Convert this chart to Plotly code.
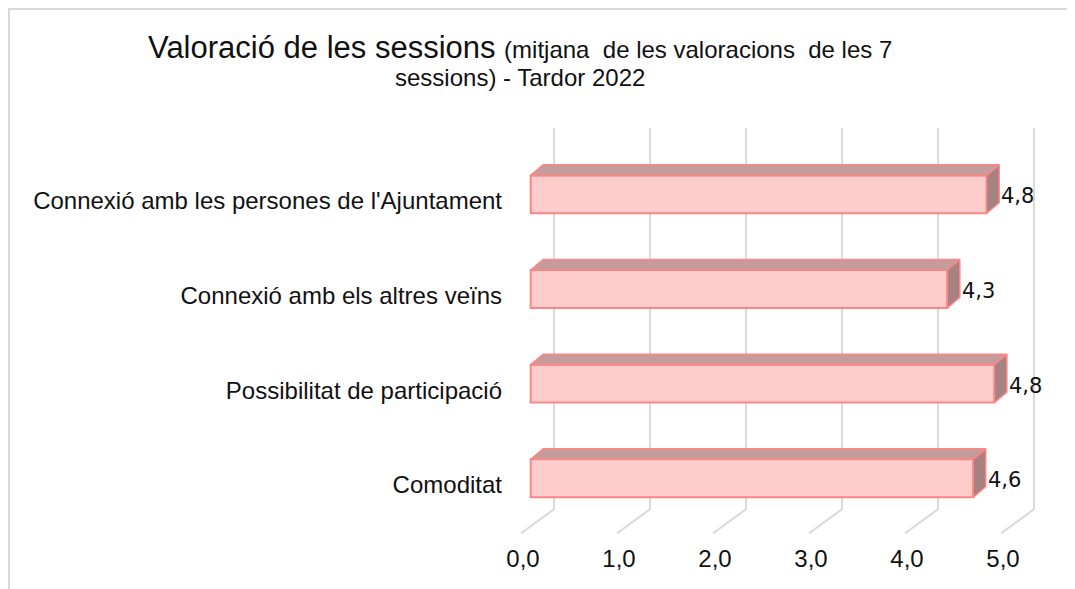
import plotly.graph_objects as go

# ---- data ----
categories = ["Comoditat", "Possibilitat de participació",
              "Connexió amb els altres veïns", "Connexió amb les persones de l'Ajuntament"]
values = [4.61, 4.83, 4.34, 4.75]
x_ticks = [0, 1, 2, 3, 4, 5]
x_tick_labels = ["0,0", "1,0", "2,0", "3,0", "4,0", "5,0"]

# ---- style / pseudo-3D geometry (data units) ----
FRONT = "#FFCCCC"
EDGE = "#FF8585"
TOP = "#C49C9C"
SIDE = "#A68282"
GRID = "#D9D9D9"
BAR_W = 0.40
DX, DY = 0.13, 0.111          # bar depth offset
BACK_DX = 0.243               # back wall offset
FLOOR_DX = -0.10              # front floor offset
WALL_BOTTOM, WALL_TOP, FLOOR_FRONT = -0.327, 3.70, -0.581
TXT = "#111111"
FONT = "Liberation Sans, Arial, sans-serif"

ys = list(range(len(categories)))

fig = go.Figure()

# front faces
fig.add_trace(go.Bar(
    x=values, y=ys, orientation="h", width=BAR_W,
    marker=dict(color=FRONT, line=dict(color=EDGE, width=2)),
    hoverinfo="skip"))

# top faces
tx, ty = [], []
for y, v in zip(ys, values):
    t = y + BAR_W / 2
    tx += [0, v, v + DX, DX, 0, None]
    ty += [t, t, t + DY, t + DY, t, None]
fig.add_trace(go.Scatter(x=tx, y=ty, mode="lines", fill="toself", fillcolor=TOP,
                         line=dict(color=EDGE, width=1.5), hoverinfo="skip"))

# side faces
sx, sy = [], []
for y, v in zip(ys, values):
    t, b = y + BAR_W / 2, y - BAR_W / 2
    sx += [v, v + DX, v + DX, v, v, None]
    sy += [t, t + DY, b + DY, b, t, None]
fig.add_trace(go.Scatter(x=sx, y=sy, mode="lines", fill="toself", fillcolor=SIDE,
                         line=dict(color=EDGE, width=1.5), hoverinfo="skip"))

# gridlines (back wall + floor) as shapes below the bars
shapes = []
for t in x_ticks:
    shapes.append(dict(type="line", xref="x", yref="y", layer="below",
                       x0=t + BACK_DX, x1=t + BACK_DX, y0=WALL_BOTTOM, y1=WALL_TOP,
                       line=dict(color=GRID, width=2)))
    shapes.append(dict(type="line", xref="x", yref="y", layer="below",
                       x0=t + BACK_DX, x1=t + FLOOR_DX, y0=WALL_BOTTOM, y1=FLOOR_FRONT,
                       line=dict(color=GRID, width=2)))

# page layout (page pixels; the page body adds an 8px offset)
OFF = 8
PL, PR, PT, PBOT = 505, 1065, 120, 540   # plot area in page pixels
L = PL - OFF
T = PT - OFF
R = 1075 - (PR - OFF)
B = 589 - (PBOT - OFF)
W, H = PR - PL, PBOT - PT


def px(x):
    return (x - PL) / W


def py(y):
    return (PBOT - y) / H


shapes.append(dict(type="rect", xref="paper", yref="paper", layer="below",
                   x0=px(9), x1=px(1100), y0=py(9), y1=py(620),
                   line=dict(color=GRID, width=2)))

annotations = []
for y, v in zip(ys, values):
    annotations.append(dict(x=v + DX, y=y - 0.02, xref="x", yref="y",
                            text=f"{v:.1f}".replace(".", ","), showarrow=False,
                            xanchor="left", yanchor="middle", xshift=0,
                            font=dict(family="DejaVu Sans", size=21, color=TXT)))

annotations.append(dict(
    x=px(520), y=py(48), xref="paper", yref="paper", showarrow=False,
    xanchor="center", yanchor="middle",
    text="Valoració de les sessions <span style='font-size:24px'>(mitjana  de les valoracions  de les 7</span>",
    font=dict(family=FONT, size=31, color=TXT)))
annotations.append(dict(
    x=px(520), y=py(78), xref="paper", yref="paper", showarrow=False,
    xanchor="center", yanchor="middle",
    text="sessions) - Tardor 2022",
    font=dict(family=FONT, size=24, color=TXT)))

x_min = (PL - 530.7) / 96.0
x_max = (PR - 530.7) / 96.0
fig.update_layout(
    width=1075, height=589,
    margin=dict(l=L, r=R, t=T, b=B),
    paper_bgcolor="white", plot_bgcolor="white",
    showlegend=False, separators=",.",
    font=dict(family=FONT, size=24, color=TXT),
    shapes=shapes, annotations=annotations,
    xaxis=dict(range=[x_min, x_max], showgrid=False, zeroline=False, showline=False,
               tickvals=[t - 0.08 for t in x_ticks], ticktext=x_tick_labels,
               ticks="", ticklabelstandoff=2, tickfont=dict(size=24, color=TXT)),
    yaxis=dict(range=[-0.652, 3.785], showgrid=False, zeroline=False, showline=False,
               tickvals=[y - 0.07 for y in ys], ticktext=categories,
               ticks="", ticklabelstandoff=2, tickfont=dict(size=24, color=TXT)),
)

fig.write_html("out.html")
